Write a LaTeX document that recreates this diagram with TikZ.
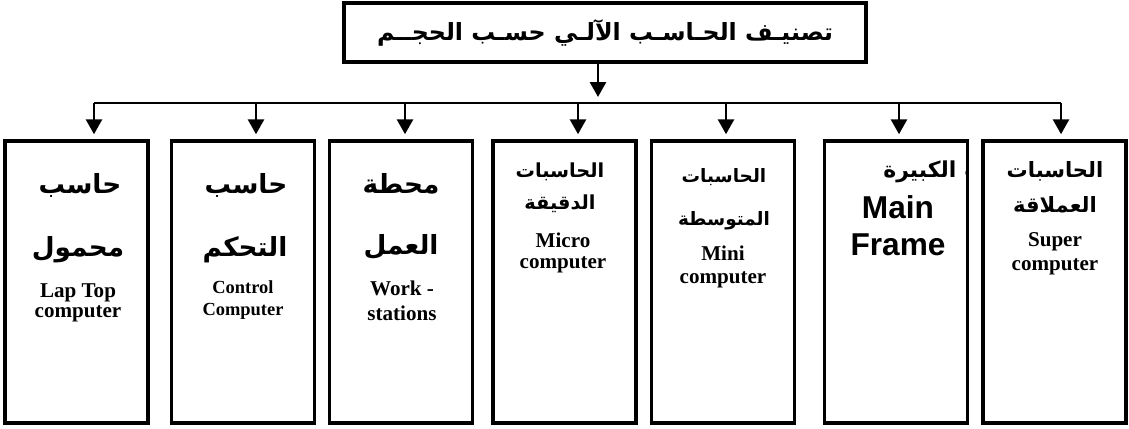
\documentclass[tikz,border=0pt]{standalone}
\usepackage{fontspec}
\setmainfont{Liberation Serif}
\newfontfamily\arabicfont[Script=Arabic]{DejaVu Sans}
\newfontfamily\arialfont{Liberation Sans}
\TeXXeTstate=1
\usetikzlibrary{arrows.meta}
\tikzset{headbox/.style={draw, line width=2pt, minimum width=10.44cm,
 minimum height=1.18cm, font=\arabicfont\bfseries\fontsize{13.5}{15}\selectfont
}}
\tikzset{catbox/.style={draw, line width=2pt, minimum width=2.86cm,
 minimum height=5.64cm
}}
\tikzset{bus/.style={line width=1.6pt}}
\tikzset{link/.style={line width=1.6pt, -{Triangle[width=0.32cm, length=0.3cm]}}}
\tikzset{artext/.style={anchor=base, inner sep=0pt,
 font=\arabicfont\bfseries\fontsize{#1}{#1}\selectfont
}}
\tikzset{entext/.style={anchor=base, inner sep=0pt,
 font=\bfseries\fontsize{#1}{#1}\selectfont
}}

\begin{document}
\begin{tikzpicture}[x=0.02cm, y=-0.02cm]
\useasboundingbox (0,0) rectangle (1129,429);

\node [headbox] (head) at (605,32.5)
  {\beginR تصنيـف الحـاسـب الآلـي حسـب الحجــم\endR};

\foreach \n/\cx in {1/76.5, 2/243, 3/401, 4/564.5, 5/723, 6/896, 7/1054.5}
\node [catbox] (box\n) at (\cx,282) {};

% bus and drops
\coordinate (hub) at (598,103);
\draw [link, shorten >=0.12cm] (head.south -| hub) -- (hub);
\foreach \n/\ax in {1/94, 2/256, 3/405, 4/578, 5/726, 6/899, 7/1061}
\coordinate (drop\n) at (\ax,103);
\draw [bus] (drop1) -- (drop7);
\foreach \n in {1,...,7}
\draw [link, shorten >=0.1cm] (drop\n) -- (drop\n |- box\n.north);

% arabic names
\foreach \nm/\x/\y/\s/\txt in
  {arA1/80/194/15/حاسب, arB1/78/256/15/محمول,
  arA2/246/194/15/حاسب, arB2/245/256/15/التحكم,
  arA3/401/194/15/محطة, arB3/401/254/15/العمل,
  arA4/560/177/11/الحاسبات, arB4/560/209/11/الدقيقة,
  arA5/724/182/10.5/الحاسبات, arB5/724/225/10.5/المتوسطة,
  arA7/1055/177/12/الحاسبات, arB7/1055/212/12/العملاقة}
\node [artext=\s] (\nm) at (\x,\y) {\beginR\txt\endR};

\begin{scope}
\clip ([xshift=1pt]box6.north west) rectangle ([xshift=-1pt]box6.south east);
\node [artext=12.5, anchor=base west] (arA6) at (883,177)
  {\beginR ـت الكبيرة\endR};
\end{scope}

% english names
\foreach \nm/\x/\y/\s/\txt in
  {enA1/78/297/12/Lap Top, enB1/78/317/12/computer,
  enA2/243/293/10.5/Control, enB2/243/315/10.5/Computer,
  enA3/402/295/12/Work -, enB3/402/320/12/stations,
  enA4/563/247/12/Micro, enB4/563/268/12/computer,
  enA5/723/260/12/Mini, enB5/723/283/12/computer,
  enA7/1055/246/12/Super, enB7/1055/270/12/computer}
\node [entext=\s] (\nm) at (\x,\y) {\txt};

\node [entext=18, font=\arialfont\bfseries\fontsize{18}{18}\selectfont]
  (mainA) at (898,218) {Main};
\node [entext=18, font=\arialfont\bfseries\fontsize{18}{18}\selectfont]
  (mainB) at (898,255) {Frame};
\end{tikzpicture}
\end{document}
